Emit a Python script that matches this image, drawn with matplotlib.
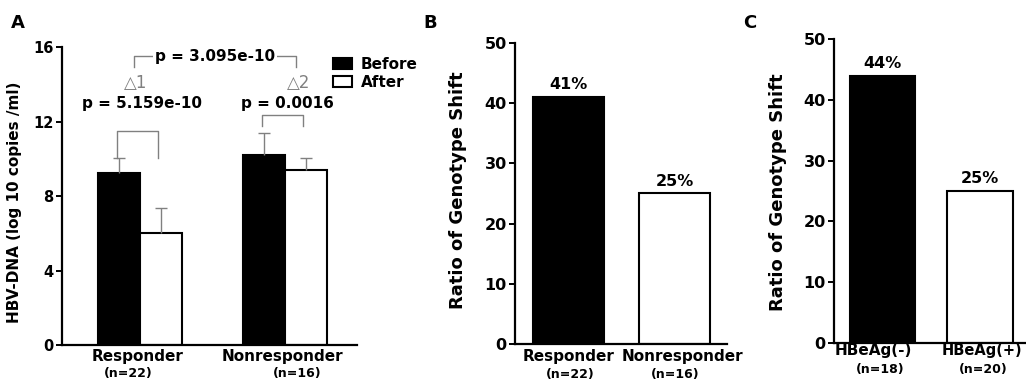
import matplotlib
matplotlib.use('Agg')
import matplotlib.pyplot as plt
from matplotlib.patches import Patch

plt.rcParams['font.family'] = ['DejaVu Sans']

# Panel A data: HBV-DNA before/after treatment
groups_a = ['Responder', 'Nonresponder']
n_a = ['(n=22)', '(n=16)']
before_means = [9.25, 10.2]
before_err = [0.8, 1.2]
after_means = [6.0, 9.38]
after_err = [1.37, 0.67]
p_within = ['p = 5.159e-10', 'p = 0.0016']
p_between = 'p = 3.095e-10'

# Panel B data
groups_b = ['Responder', 'Nonresponder']
n_b = ['(n=22)', '(n=16)']
ratio_b = [41, 25]

# Panel C data
groups_c = ['HBeAg(-)', 'HBeAg(+)']
n_c = ['(n=18)', '(n=20)']
ratio_c = [44, 25]

grey = '#808080'

fig = plt.figure(figsize=(10.26, 3.85), dpi=100)


def style_axes(ax, size=10.5):
    for s in ['top', 'right']:
        ax.spines[s].set_visible(False)
    for s in ['left', 'bottom']:
        ax.spines[s].set_linewidth(1.6)
    ax.tick_params(axis='x', length=0, labelbottom=False)
    ax.tick_params(axis='y', direction='out', length=4, width=1.4, pad=2, labelsize=size)
    for t in ax.get_yticklabels():
        t.set_fontweight('bold')


def top_errorbar(ax, xs, ys, errs):
    # only the upper half of the error bar, as in the figure
    _, caps, _ = ax.errorbar(xs, ys, yerr=[[0] * len(errs), errs], fmt='none',
                             ecolor=grey, elinewidth=1, capsize=4, capthick=1)
    caps[0].set_visible(False)


# ---------- Panel A ----------
ax = fig.add_axes([0.0604, 0.1039, 0.2875, 0.774])
x = [0, 1]
w = 0.29
xb = [i - w / 2 for i in x]
xa = [i + w / 2 for i in x]
ax.bar(xb, before_means, w, color='black', edgecolor='black', linewidth=1.5)
ax.bar(xa, after_means, w, color='white', edgecolor='black', linewidth=1.5)
top_errorbar(ax, xb, before_means, before_err)
top_errorbar(ax, xa, after_means, after_err)
ax.set_xlim(-0.538, 1.497)
ax.set_ylim(0, 16)
ax.set_yticks([0, 4, 8, 12, 16])
style_axes(ax)
ax.set_ylabel('HBV-DNA (log 10 copies /ml)', fontsize=11, fontweight='bold')
ax.yaxis.set_label_coords(-0.136, 0.48)

# within-group brackets
br_top = [11.5, 12.33]
br_low = [10.05, 11.76]
for i in range(2):
    ax.plot([xb[i] - 0.01, xb[i] - 0.01, xa[i] - 0.02, xa[i] - 0.02],
            [br_low[i], br_top[i], br_top[i], br_low[i]], color=grey, lw=1)
    ax.text(x[i] + 0.017, 12.94, p_within[i], ha='center', va='center',
            fontsize=11, fontweight='bold')

# between-group bracket
ax.plot([-0.04, -0.04, 1.076, 1.076], [14.92, 15.5, 15.5, 14.92],
        color=grey, lw=1, clip_on=False)
ax.text(0.517, 15.5, p_between, ha='center', va='center', fontsize=11,
        fontweight='bold', bbox=dict(facecolor='white', edgecolor='none', pad=1.5))
ax.text(-0.028, 14.06, '\u25b31', ha='center', va='center', fontsize=12, color=grey)
ax.text(1.097, 14.06, '\u25b32', ha='center', va='center', fontsize=12, color=grey)

leg = ax.legend(handles=[Patch(facecolor='black', edgecolor='black', lw=1.5),
                         Patch(facecolor='white', edgecolor='black', lw=1.5)],
                labels=['Before', 'After'], loc='upper left',
                bbox_to_anchor=(0.919, 0.968), frameon=False, borderpad=0,
                borderaxespad=0, handlelength=1.25, handleheight=0.7,
                handletextpad=0.55, labelspacing=0.2,
                prop={'weight': 'bold', 'size': 11})

xt = ax.get_xaxis_transform()
ax.text(-0.014, -0.037, groups_a[0], transform=xt, ha='center', va='center',
        fontsize=11, fontweight='bold')
ax.text(-0.083, -0.094, n_a[0], transform=xt, ha='center', va='center',
        fontsize=9, fontweight='bold')
ax.text(0.986, -0.037, groups_a[1], transform=xt, ha='center', va='center',
        fontsize=11, fontweight='bold')
ax.text(1.083, -0.094, n_a[1], transform=xt, ha='center', va='center',
        fontsize=9, fontweight='bold')

# ---------- Panel B ----------
ax = fig.add_axes([0.502, 0.1065, 0.2066, 0.782])
colors = ['black', 'white']
ax.bar(x, ratio_b, 0.67, color=colors, edgecolor='black', linewidth=1.5)
for i, v in enumerate(ratio_b):
    ax.text(x[i], v + 0.8, f'{v}%', ha='center', va='bottom', fontsize=11.5,
            fontweight='bold')
ax.set_xlim(-0.505, 1.495)
ax.set_ylim(0, 50)
ax.set_yticks([0, 10, 20, 30, 40, 50])
style_axes(ax, 11.5)
ax.set_ylabel('Ratio of Genotype Shift', fontsize=13, fontweight='bold')
ax.yaxis.set_label_coords(-0.226, 0.51)
xt = ax.get_xaxis_transform()
ax.text(0.0, -0.04, groups_b[0], transform=xt, ha='center', va='center',
        fontsize=11, fontweight='bold')
ax.text(0.014, -0.1, n_b[0], transform=xt, ha='center', va='center',
        fontsize=9, fontweight='bold')
ax.text(1.07, -0.04, groups_b[1], transform=xt, ha='center', va='center',
        fontsize=11, fontweight='bold')
ax.text(1.005, -0.1, n_b[1], transform=xt, ha='center', va='center',
        fontsize=9, fontweight='bold')

# ---------- Panel C ----------
ax = fig.add_axes([0.8129, 0.109, 0.1871, 0.7896])
ax.bar(x, ratio_c, 0.67, color=colors, edgecolor='black', linewidth=1.5)
for i, v in enumerate(ratio_c):
    ax.text(x[i], v + 0.8, f'{v}%', ha='center', va='bottom', fontsize=11.5,
            fontweight='bold')
ax.set_xlim(-0.497, 1.47)
ax.set_ylim(0, 50)
ax.set_yticks([0, 10, 20, 30, 40, 50])
style_axes(ax, 11.5)
ax.set_ylabel('Ratio of Genotype Shift', fontsize=13, fontweight='bold')
ax.yaxis.set_label_coords(-0.245, 0.497)
xt = ax.get_xaxis_transform()
ax.text(-0.097, -0.026, groups_c[0], transform=xt, ha='center', va='center',
        fontsize=11, fontweight='bold')
ax.text(-0.026, -0.086, n_c[0], transform=xt, ha='center', va='center',
        fontsize=9, fontweight='bold')
ax.text(1.02, -0.026, groups_c[1], transform=xt, ha='center', va='center',
        fontsize=10.5, fontweight='bold')
ax.text(1.03, -0.086, n_c[1], transform=xt, ha='center', va='center',
        fontsize=9, fontweight='bold')

# panel letters
for lx, letter in [(18, 'A'), (430, 'B'), (750, 'C')]:
    fig.text(lx / 1026, 1 - 23 / 385, letter, ha='center', va='center',
             fontsize=13, fontweight='bold')

fig.savefig('out.png', dpi=100)
